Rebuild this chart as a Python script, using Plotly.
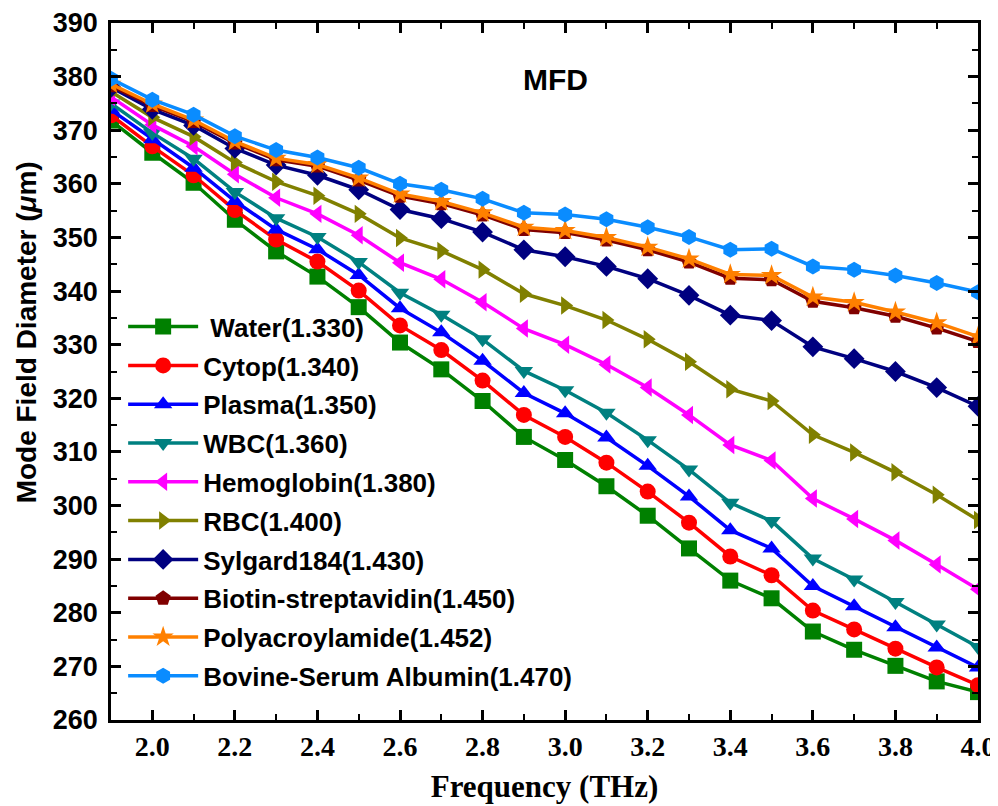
import plotly.graph_objects as go

FREQ = [1.9, 2.0, 2.1, 2.2, 2.3, 2.4, 2.5, 2.6, 2.7, 2.8, 2.9,
        3.0, 3.1, 3.2, 3.3, 3.4, 3.5, 3.6, 3.7, 3.8, 3.9, 4.0]

water = [371.8, 365.8, 360.2, 353.3, 347.4, 342.7, 337.0, 330.4, 325.4, 319.5, 312.8,
         308.5, 303.6, 298.1, 292.0, 286.0, 282.7, 276.5, 273.1, 270.1, 267.2, 265.2]
cytop = [372.8, 367.0, 361.6, 355.1, 349.6, 345.5, 340.1, 333.6, 329.0, 323.3, 316.9,
         312.8, 308.0, 302.6, 296.8, 290.5, 287.0, 280.4, 276.9, 273.3, 269.8, 266.5]
plasma = [373.8, 368.3, 363.0, 356.8, 351.5, 347.8, 343.0, 336.8, 332.3, 327.0, 321.0,
          317.2, 312.7, 307.4, 301.7, 295.4, 292.0, 285.0, 281.2, 277.3, 273.5, 269.8]
wbc = [375.0, 369.5, 364.7, 358.5, 353.6, 350.1, 345.4, 339.7, 335.6, 331.0, 325.1,
       321.5, 317.3, 312.2, 306.7, 300.5, 297.1, 290.1, 286.2, 282.0, 277.8, 273.6]
hemoglobin = [376.2, 371.0, 367.0, 361.8, 357.4, 354.4, 350.4, 345.3, 342.2, 337.9, 333.0,
              330.0, 326.3, 322.0, 316.9, 311.3, 308.4, 301.3, 297.5, 293.5, 289.0, 284.4]
rbc = [377.2, 372.4, 368.8, 364.0, 360.4, 357.8, 354.4, 349.9, 347.5, 344.0, 339.5,
       337.3, 334.6, 331.0, 326.8, 321.7, 319.5, 313.2, 309.9, 306.2, 302.0, 297.3]
sylgard = [378.0, 373.9, 370.9, 366.6, 363.5, 361.6, 358.9, 355.2, 353.5, 351.0, 347.7,
           346.4, 344.6, 342.3, 339.2, 335.5, 334.5, 329.6, 327.4, 325.0, 322.0, 318.5]
biotin = [378.3, 374.6, 371.6, 367.6, 364.5, 363.3, 360.7, 357.7, 356.3, 354.2, 351.5,
          350.9, 349.5, 347.7, 345.4, 342.4, 342.1, 338.1, 336.9, 335.3, 333.1, 330.6]
poly = [378.6, 374.9, 371.9, 367.9, 364.8, 363.6, 361.1, 358.1, 356.7, 354.6, 351.9,
        351.3, 350.0, 348.2, 346.0, 343.1, 342.9, 338.9, 337.9, 336.1, 334.1, 331.5]
bovine = [379.6, 375.7, 372.9, 368.9, 366.3, 364.9, 363.0, 360.0, 358.9, 357.2, 354.6,
          354.3, 353.4, 351.9, 350.1, 347.7, 347.9, 344.6, 344.0, 342.9, 341.5, 339.8]

NAMES = [" Water(1.330)", "Cytop(1.340)", "Plasma(1.350)", "WBC(1.360)",
         "Hemoglobin(1.380)", "RBC(1.400)", "Sylgard184(1.430)",
         "Biotin-streptavidin(1.450)", "Polyacroylamide(1.452)",
         "Bovine-Serum Albumin(1.470)"]
SERIES = [water, cytop, plasma, wbc, hemoglobin, rbc, sylgard, biotin, poly, bovine]
COLORS = ["#008000", "#FF0000", "#0000FF", "#008080", "#FF00FF",
          "#808000", "#000080", "#800000", "#FF8000", "#0A8CFF"]
SYMBOLS = ["square", "circle", "triangle-up", "triangle-down", "triangle-left",
           "triangle-right", "diamond", "pentagon", "star", "hexagon"]

SANS = "Liberation Sans, Arial"
SERIF = "Liberation Serif, Times New Roman"

fig = go.Figure()
for name, ys, col, sym in zip(NAMES, SERIES, COLORS, SYMBOLS):
    fig.add_trace(go.Scatter(
        x=FREQ, y=ys, name=name, mode="lines+markers",
        line=dict(color=col, width=3.5),
        marker=dict(symbol=sym, size=16, color=col),
        legendgroup=name,
    ))

fig.add_annotation(x=2.976, y=379.4, text="MFD", showarrow=False,
                   font=dict(family=SANS, size=30, color="black", weight="bold"))

# y title drawn as annotation so it can sit above the axis centre like the original
fig.add_annotation(x=-0.097, y=0.556, xref="paper", yref="paper",
                   xanchor="center", yanchor="middle",
                   text="Mode Field Diameter (<i>μ</i>m)", textangle=-90,
                   showarrow=False,
                   font=dict(family=SANS, size=28, color="black", weight="bold"))

axis_common = dict(
    showline=True, linewidth=2.5, linecolor="black", mirror="allticks",
    ticks="inside", ticklen=10, tickwidth=2.5, tickcolor="black",
    showgrid=False, zeroline=False, automargin=False,
    ticklabeloverflow="allow",
)

fig.update_xaxes(
    range=[1.9, 4.0], tick0=2.0, dtick=0.2, tickformat=".1f",
    minor=dict(ticks="inside", dtick=0.1, ticklen=6, tickwidth=2, tickcolor="black"),
    tickfont=dict(family=SERIF, size=28, color="black", weight="bold"),
    title=dict(text="Frequency (THz)", standoff=14,
               font=dict(family=SERIF, size=31, color="black", weight="bold")),
    **axis_common,
)
fig.update_yaxes(
    range=[260, 390], dtick=10,
    minor=dict(ticks="inside", dtick=5, ticklen=6, tickwidth=2, tickcolor="black"),
    tickfont=dict(family=SANS, size=27, color="black", weight="bold"),
    ticklabelstandoff=5,
    **axis_common,
)

# page body adds an 8px offset, so margins are shifted to compensate
fig.update_layout(
    width=998, height=806,
    margin=dict(l=103, r=28, t=15, b=94),
    plot_bgcolor="white", paper_bgcolor="white",
    legend=dict(
        x=0.014, y=0.598, xanchor="left", yanchor="top",
        bgcolor="rgba(0,0,0,0)", tracegroupgap=2, itemwidth=70,
        font=dict(family=SANS, size=26, color="black", weight="bold"),
    ),
)

fig.write_html("out.html")
